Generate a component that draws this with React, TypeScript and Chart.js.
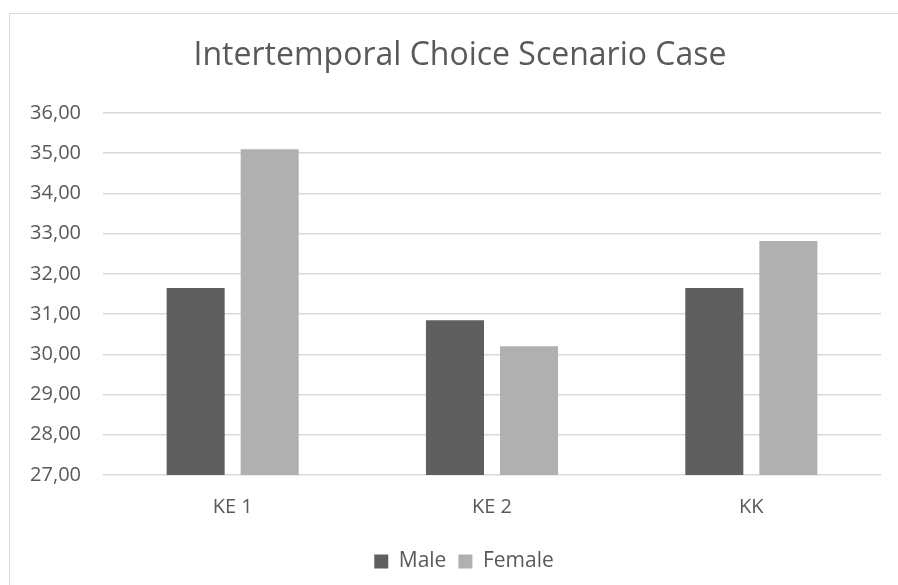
import React, { useEffect, useRef } from "react";
import { Chart, registerables } from "chart.js";

Chart.register(...registerables);

const categories = ["KE 1", "KE 2", "KK"];
const maleValues = [31.65, 30.85, 31.65];
const femaleValues = [35.1, 30.2, 32.82];
const seriesNames = ["Male", "Female"];
const titleText = "Intertemporal Choice Scenario Case";
const yMin = 27;
const yMax = 36;

const FONT = "'Open Sans', sans-serif";
const TEXT = "#595959";

const titlePlugin = {
  id: "customTitle",
  afterLayout(chart: any) {
    const lg = chart.legend;
    if (lg) {
      const target = 464;
      const shift = target - (lg.left + lg.right) / 2;
      lg.left += shift;
      lg.right += shift;
    }
  },
  afterDraw(chart: any) {
    const ctx = chart.ctx;
    ctx.save();
    ctx.font = `32px ${FONT}`;
    ctx.fillStyle = TEXT;
    ctx.textAlign = "center";
    ctx.textBaseline = "alphabetic";
    ctx.fillText(titleText, 460, 65);
    ctx.restore();
  },
};

export default function App() {
  const ref = useRef<HTMLCanvasElement | null>(null);
  useEffect(() => {
    if (!ref.current) return;
    const chart = new Chart(ref.current, {
      type: "bar",
      data: {
        labels: categories,
        datasets: [
          {
            label: seriesNames[0],
            data: maleValues,
            backgroundColor: "#5f5f5f",
            categoryPercentage: 0.571,
            barPercentage: 0.784,
          },
          {
            label: seriesNames[1],
            data: femaleValues,
            backgroundColor: "#b0b0b0",
            categoryPercentage: 0.571,
            barPercentage: 0.784,
          },
        ],
      },
      options: {
        responsive: false,
        animation: false,
        layout: { padding: { left: 10, right: 17, top: 113, bottom: 3 } },
        plugins: {
          title: { display: false },
          tooltip: { enabled: false },
          legend: {
            position: "bottom",
            labels: {
              boxWidth: 14,
              boxHeight: 14,
              color: TEXT,
              font: { family: FONT, size: 21 },
              padding: 12,
            },
          },
        },
        scales: {
          x: {
            grid: { display: false, drawTicks: false },
            border: { display: false },
            ticks: { color: TEXT, font: { family: FONT, size: 20 }, padding: 20 },
          },
          y: {
            min: yMin,
            max: yMax,
            grid: { color: "#d9d9d9", lineWidth: 1.5, drawTicks: false },
            border: { display: false },
            afterFit(scale: any) {
              scale.width = 93;
            },
            ticks: {
              stepSize: 1,
              color: TEXT,
              padding: 22,
              font: { family: FONT, size: 20 },
              callback: (v: any) => Number(v).toFixed(2).replace(".", ","),
            },
          },
        },
      },
      plugins: [titlePlugin],
    });
    return () => chart.destroy();
  }, []);

  return (
    <div
      style={{
        position: "fixed",
        left: 0,
        top: 0,
        width: 898,
        height: 585,
        overflow: "hidden",
        background: "#fff",
      }}
    >
      <div
        style={{
          position: "absolute",
          left: 9,
          top: 13,
          width: 1000,
          height: 1000,
          border: "1px solid #d9d9d9",
        }}
      />
      <canvas
        ref={ref}
        width={898}
        height={585}
        style={{ position: "absolute", left: 0, top: 0, width: 898, height: 585 }}
      />
    </div>
  );
}
